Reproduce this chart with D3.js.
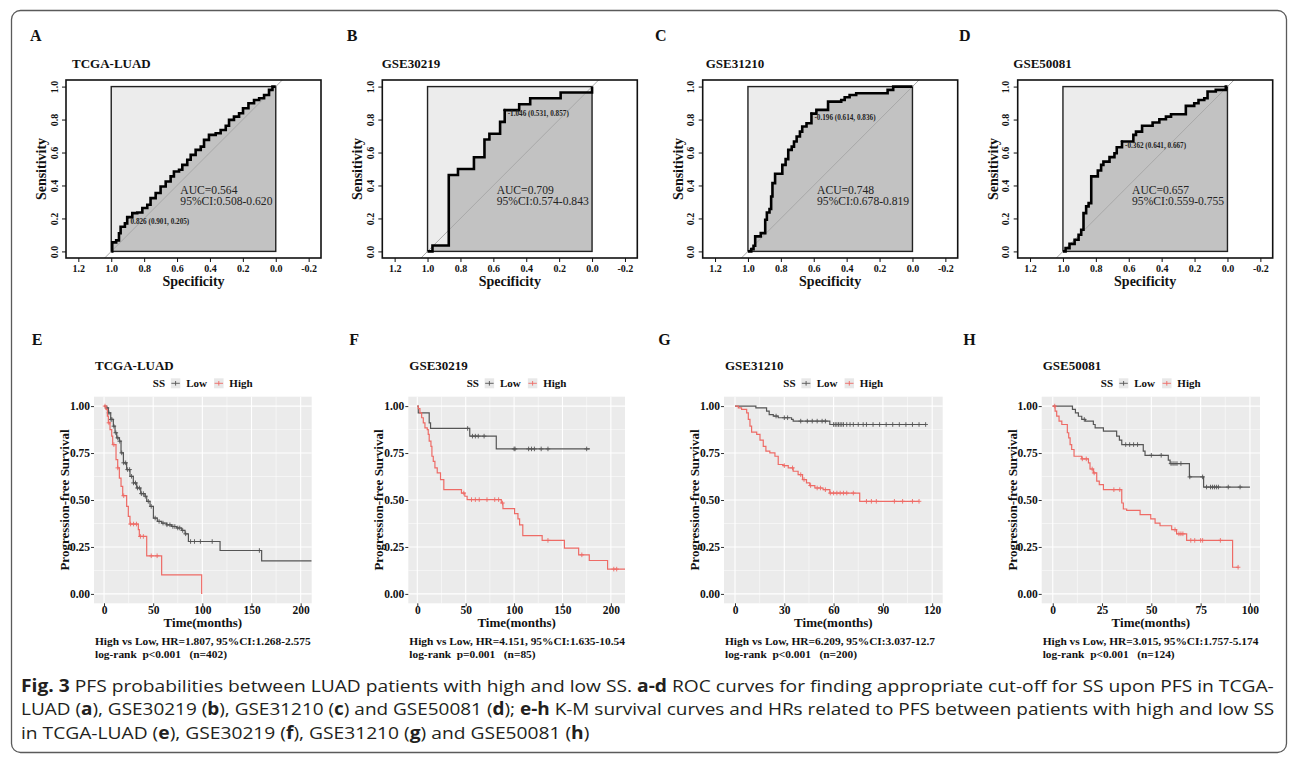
<!DOCTYPE html>
<html lang="en">
<meta charset="utf-8">

<head>
    <title>PFS ROC and K-M curves</title>
    <script src="https://d3js.org/d3.v7.min.js"></script>
    <style>
        body { margin: 0; background: #fff; }
        svg text { font-family: "Liberation Serif", "Times New Roman", serif; }
        #fig .caption text { font-family: "Open Sans", "Noto Sans", sans-serif; }
    </style>
</head>

<body>
    <svg id="fig" width="1295" height="758"></svg>
    <script>

        // ---------- ROC panels A-D : (specificity, sensitivity) ----------
        var rocNames = ["TCGA-LUAD", "GSE30219", "GSE31210", "GSE50081"];
        var rocLetters = ["A", "B", "C", "D"];

        var rocSpecA = [1, .994, .970, .953, .943, .917, .903, .872, .842, .811, .781, .761, .730, .700, .669, .639, .619, .588, .568, .538, .517, .487, .456, .436, .406, .365, .335, .304, .284, .254, .223, .199, .166, .132, .101, .071, .041, .020, 0];
        var rocSensA = [0, .055, .067, .11, .15, .17, .208, .232, .236, .263, .283, .323, .354, .394, .424, .455, .485, .495, .525, .556, .586, .616, .636, .677, .707, .717, .737, .762, .798, .818, .838, .869, .899, .919, .929, .949, .98, 1, 1];

        var rocSpecB = [1, .97, .871, .815, .718, .654, .624, .559, .531, .443, .376, .191, 0];
        var rocSensB = [0, .036, .464, .5, .571, .679, .714, .786, .857, .893, .929, .964, 1];

        var rocSpecC = [1, .980, .966, .956, .926, .922, .901, .895, .885, .869, .859, .851, .835, .795, .791, .771, .755, .734, .720, .704, .684, .670, .644, .614, .584, .513, .433, .412, .382, .342, .151, .117, 0];
        var rocSensC = [0, .014, .034, .091, .091, .111, .111, .192, .236, .257, .333, .414, .471, .471, .525, .560, .616, .636, .667, .697, .727, .758, .778, .836, .859, .909, .919, .935, .949, .960, .98, 1, 1];

        var rocSpecD = [1, .984, .960, .929, .905, .889, .875, .859, .844, .828, .788, .768, .754, .717, .687, .673, .641, .572, .556, .519, .455, .414, .374, .343, .253, .202, .176, .141, .121, .071, .01, 0];
        var rocSensD = [0, .02, .046, .071, .101, .131, .232, .273, .293, .455, .491, .525, .545, .572, .596, .632, .667, .707, .727, .762, .782, .802, .818, .832, .883, .899, .919, .929, .970, .98, 1, 1];

        var rocAucText = ["AUC=0.564", "AUC=0.709", "ACU=0.748", "AUC=0.657"];
        var rocCiText = ["95%CI:0.508-0.620", "95%CI:0.574-0.843", "95%CI:0.678-0.819", "95%CI:0.559-0.755"];
        var rocThrText = ["0.826 (0.901, 0.205)", "-1.046 (0.531, 0.857)", "-0.196 (0.614, 0.836)", "-0.362 (0.641, 0.667)"];
        var rocThrSpec = [0.901, 0.531, 0.614, 0.641];
        var rocThrSens = [0.205, 0.857, 0.836, 0.667];
        var rocXTicks = [1.2, 1.0, 0.8, 0.6, 0.4, 0.2, 0.0, -0.2];
        var rocYTicks = [0, 0.2, 0.4, 0.6, 0.8, 1.0];

        // ---------- K-M panels E-H ----------
        var kmNames = ["TCGA-LUAD", "GSE30219", "GSE31210", "GSE50081"];
        var kmLetters = ["E", "F", "G", "H"];

        var kmLowTimeE = [0, 2, 4.4, 6.8, 9.5, 11.2, 12.9, 15.6, 17.3, 19.7, 23, 26.4, 29.8, 33.2, 37.3, 41.7, 43.4, 46.8, 50.2, 54.2, 58.6, 63.7, 68.8, 73.9, 79, 82.4, 85.8, 118, 160.3];
        var kmLowSurvE = [1, .99, .964, .929, .893, .858, .831, .813, .751, .698, .662, .626, .591, .564, .534, .520, .493, .466, .404, .386, .377, .368, .359, .351, .338, .320, .279, .231, .176];
        var kmLowCensE = [3, 5, 7, 8, 10, 12, 14, 16, 18, 20, 22, 24, 26, 28, 30, 32, 34, 36, 38, 40, 42, 45, 48, 52, 56, 60, 64, 67, 70, 72, 75, 77, 80, 83, 88, 92, 98, 110, 158];
        var kmHighTimeE = [0, 2, 3.4, 4.4, 6.1, 7.8, 8.8, 12.2, 13.9, 15.6, 17.3, 19, 23, 24.7, 26.4, 34.9, 35.9, 43.4, 58.6, 99.3];
        var kmHighSurvE = [1, .982, .947, .911, .875, .840, .795, .715, .671, .617, .573, .523, .466, .413, .372, .342, .306, .203, .101, 0];
        var kmHighCensE = [1, 5, 10, 14, 20, 27, 30, 33, 37, 40, 48, 54];

        var kmLowTimeF = [0, 1, 12.3, 13.7, 54.2, 81.6];
        var kmLowSurvF = [1, .964, .911, .881, .840, .772];
        var kmLowCensF = [52, 57, 60, 63, 69, 100, 101, 115, 118, 121, 128, 135, 175];
        var kmHighTimeF = [0, 1, 2.7, 4.5, 6.2, 7.9, 10.3, 11.3, 12.3, 14.1, 15.1, 16.5, 18.2, 20.6, 24, 27.4, 45.6, 49.1, 51.5, 86.8, 88.5, 100.5, 104, 105.7, 109, 129, 152, 166.7, 177.7, 196.6];
        var kmHighSurvF = [1, .986, .964, .938, .911, .884, .875, .849, .813, .786, .733, .706, .671, .644, .609, .555, .537, .520, .502, .484, .454, .427, .399, .368, .310, .285, .244, .208, .178, .132];
        var kmHighCensF = [48, 56, 60, 64, 72, 80, 84, 88, 135, 170, 203, 206];

        var kmLowTimeG = [0, 12.7, 19.2, 20.8, 23.3, 26.3, 34.4, 35.4, 57.7];
        var kmLowSurvG = [1, .991, .973, .955, .947, .938, .929, .920, .902];
        var kmLowCensG = [25, 30, 32, 40, 44, 47, 50, 53, 55, 60, 61, 62, 63, 64, 65, 66, 68, 70, 72, 75, 78, 80, 84, 88, 92, 96, 100, 104, 108, 112, 116];
        var kmHighTimeG = [0, 2, 4, 7.1, 8.1, 9.1, 10.1, 13.2, 15.2, 17.2, 18.8, 21.2, 24.3, 26.3, 29.3, 32.4, 35.4, 38.4, 41.1, 43.5, 45.5, 48.6, 53.6, 57.7, 75.9];
        var kmHighSurvG = [1, .991, .982, .964, .929, .893, .861, .849, .819, .786, .760, .751, .733, .689, .683, .671, .653, .635, .609, .591, .577, .564, .555, .537, .493];
        var kmHighCensG = [30, 35, 40, 42, 46, 50, 52, 55, 58, 60, 62, 64, 66, 68, 72, 80, 83, 86, 97, 102, 108, 112];

        var kmLowTimeH = [0, 10, 11.5, 13, 14.7, 16.5, 20.6, 21.5, 25.7, 32.4, 33.8, 35, 45.9, 46.8, 58.6, 59.5, 69.3, 76.5];
        var kmLowSurvH = [1, .982, .964, .946, .929, .920, .902, .884, .867, .840, .819, .795, .760, .738, .712, .694, .623, .569];
        var kmLowCensH = [16, 37, 39, 41, 43, 50, 55, 60, 61, 62, 63, 65, 69.5, 76, 78, 80, 81, 82, 83, 84, 89, 95];
        var kmHighTimeH = [0, 1.2, 2, 3.2, 4.6, 7.4, 8.1, 8.8, 9.6, 10.8, 14.7, 18.1, 18.9, 20.6, 22.3, 23.6, 25.7, 35, 35.8, 37.5, 44.3, 49.7, 51.9, 54.4, 60.3, 62.8, 67.9, 91.2];
        var kmHighSurvH = [1, .973, .947, .920, .902, .858, .831, .795, .769, .733, .719, .698, .665, .644, .600, .582, .555, .484, .452, .445, .422, .399, .377, .363, .342, .320, .285, .142];
        var kmHighCensH = [1, 15, 17, 20, 21, 31, 34, 62, 64, 65, 66, 70, 72, 75, 76, 85, 94];

        var kmLowEnd = [211.2, 178.4, 116, 100];
        var kmHighEnd = [99.3, 214.6, 112, 94.1];
        var kmXDomain = [[-10.2, 211.2], [-9.3, 214.6], [-6.7, 126.4], [-5.6, 105.1]];
        var kmXTicks = [[0, 50, 100, 150, 200], [0, 50, 100, 150, 200], [0, 30, 60, 90, 120], [0, 25, 50, 75, 100]];
        var kmYTicks = [0, 0.25, 0.5, 0.75, 1];
        var kmHrText = ["High vs Low, HR=1.807, 95%CI:1.268-2.575", "High vs Low, HR=4.151, 95%CI:1.635-10.54",
            "High vs Low, HR=6.209, 95%CI:3.037-12.7", "High vs Low, HR=3.015, 95%CI:1.757-5.174"];
        var kmPText = ["log-rank  p<0.001   (n=402)", "log-rank  p=0.001   (n=85)",
            "log-rank  p<0.001   (n=200)", "log-rank  p<0.001   (n=124)"];

        // caption: [text, bold]
        var capLines = [
            [["Fig. 3", true], [" PFS probabilities between LUAD patients with high and low SS. ", false], ["a-d", true],
             [" ROC curves for finding appropriate cut-off for SS upon PFS in TCGA-", false]],
            [["LUAD (", false], ["a", true], ["), GSE30219 (", false], ["b", true], ["), GSE31210 (", false], ["c", true],
             [") and GSE50081 (", false], ["d", true], ["); ", false], ["e-h", true],
             [" K-M survival curves and HRs related to PFS between patients with high and low SS", false]],
            [["in TCGA-LUAD (", false], ["e", true], ["), GSE30219 (", false], ["f", true], ["), GSE31210 (", false], ["g", true],
             [") and GSE50081 (", false], ["h", true], [")", false]]
        ];

        // ---------- layout ----------
        var rocBoxX = [66, 382.3, 702.7, 1017.7], rocBoxW = 255, rocTop = 80, rocBottom = 258;
        var rocTitleX = [72, 381.7, 705.7, 1013.3];
        var rocLetterX = [30, 346.7, 655, 959];
        var kmPanelX = [94, 408.3, 724, 1041.7], kmPanelW = [217.7, 216.7, 218.7, 218.3];
        var kmTop = 396.7, kmBottom = 603.3;
        var kmLetterX = [31.7, 349.3, 658.3, 963.3];
        var lowColor = "#555555", highColor = "#ee6b66";

        var svg = d3.select("#fig");

        // outer frame
        svg.append("rect").attr("x", 11.5).attr("y", 10.5).attr("width", 1275).attr("height", 742)
            .attr("rx", 9).attr("fill", "none").attr("stroke", "#5a5a5a").attr("stroke-width", 1.3);

        var rocData = [[rocSpecA, rocSensA], [rocSpecB, rocSensB], [rocSpecC, rocSensC], [rocSpecD, rocSensD]];

        function drawRoc(i) {
            var bx = rocBoxX[i];
            var g = svg.append("g").attr("font-weight", "bold").attr("fill", "#111");
            var x = d3.scaleLinear().domain([1.275, -0.275]).range([bx, bx + rocBoxW]);
            var y = d3.scaleLinear().domain([-0.04, 1.04]).range([rocBottom, rocTop]);
            var pts = rocData[i][0].map(function (s, k) { return [s, rocData[i][1][k]]; });

            g.append("text").attr("x", rocLetterX[i]).attr("y", 41).attr("font-size", 16).text(rocLetters[i]);
            g.append("text").attr("x", rocTitleX[i]).attr("y", 68).attr("font-size", 13).text(rocNames[i]);

            var clipId = "rocclip" + i;
            g.append("clipPath").attr("id", clipId).append("rect")
                .attr("x", bx).attr("y", rocTop).attr("width", rocBoxW).attr("height", rocBottom - rocTop);
            var plot = g.append("g").attr("clip-path", "url(#" + clipId + ")");

            // max AUC square
            plot.append("rect").attr("x", x(1)).attr("y", y(1)).attr("width", x(0) - x(1)).attr("height", y(0) - y(1))
                .attr("fill", "#ececec");
            // AUC polygon
            var area = d3.area().curve(d3.curveStepAfter)
                .x(function (d) { return x(d[0]); }).y0(y(0)).y1(function (d) { return y(d[1]); });
            plot.append("path").datum(pts).attr("d", area).attr("fill", "#c2c2c2");
            plot.append("rect").attr("x", x(1)).attr("y", y(1)).attr("width", x(0) - x(1)).attr("height", y(0) - y(1))
                .attr("fill", "none").attr("stroke", "#222").attr("stroke-width", 1.4);
            // identity line
            plot.append("line").attr("x1", x(1.04)).attr("y1", y(-0.04)).attr("x2", x(-0.04)).attr("y2", y(1.04))
                .attr("stroke", "#a8a8a8").attr("stroke-width", 1);
            // ROC curve
            var line = d3.line().curve(d3.curveStepAfter)
                .x(function (d) { return x(d[0]); }).y(function (d) { return y(d[1]); });
            plot.append("path").datum(pts).attr("d", line).attr("fill", "none")
                .attr("stroke", "#000").attr("stroke-width", 2.6).attr("stroke-linejoin", "miter");

            // threshold
            var tx = x(rocThrSpec[i]), ty = y(rocThrSens[i]);
            plot.append("circle").attr("cx", tx).attr("cy", ty).attr("r", 1.3).attr("fill", "#000");
            plot.append("text").attr("x", tx + 3).attr("y", ty + 6.3).attr("font-size", 7.2).attr("fill", "#222")
                .text(rocThrText[i]);

            // AUC text
            g.append("text").attr("x", x(0.58)).attr("y", y(0.35)).attr("font-size", 11.6).attr("font-weight", "normal")
                .attr("fill", "#222").text(rocAucText[i]);
            g.append("text").attr("x", x(0.58)).attr("y", y(0.35) + 11.5).attr("font-size", 11.6).attr("font-weight", "normal")
                .attr("fill", "#222").text(rocCiText[i]);

            // box
            g.append("rect").attr("x", bx).attr("y", rocTop).attr("width", rocBoxW).attr("height", rocBottom - rocTop)
                .attr("fill", "none").attr("stroke", "#111").attr("stroke-width", 1.6);

            // axes
            var fmt = function (d) { return d.toFixed(1); };
            var ya = g.append("g").attr("transform", "translate(" + bx + ",0)")
                .call(d3.axisLeft(y).tickValues(rocYTicks).tickFormat(fmt).tickSize(4).tickSizeOuter(0));
            ya.select(".domain").remove();
            ya.selectAll("text").attr("x", null).attr("dy", null).attr("text-anchor", "middle")
                .attr("transform", "translate(-8.5,0) rotate(-90)");
            var xa = g.append("g").attr("transform", "translate(0," + rocBottom + ")")
                .call(d3.axisBottom(x).tickValues(rocXTicks).tickFormat(fmt).tickSize(4).tickSizeOuter(0));
            xa.select(".domain").remove();
            [ya, xa].forEach(function (a) {
                a.attr("font-family", null).attr("font-size", 10);
                a.selectAll("line").attr("stroke", "#111");
                a.selectAll("text").attr("fill", "#111");
            });

            g.append("text").attr("x", bx + rocBoxW / 2).attr("y", 285.5).attr("text-anchor", "middle")
                .attr("font-size", 14).text("Specificity");
            g.append("text").attr("text-anchor", "middle").attr("font-size", 14)
                .attr("transform", "translate(" + (bx - 20) + "," + ((rocTop + rocBottom) / 2) + ") rotate(-90)")
                .text("Sensitivity");
        }

        var kmData = [
            [kmLowTimeE, kmLowSurvE, kmLowCensE, kmHighTimeE, kmHighSurvE, kmHighCensE],
            [kmLowTimeF, kmLowSurvF, kmLowCensF, kmHighTimeF, kmHighSurvF, kmHighCensF],
            [kmLowTimeG, kmLowSurvG, kmLowCensG, kmHighTimeG, kmHighSurvG, kmHighCensG],
            [kmLowTimeH, kmLowSurvH, kmLowCensH, kmHighTimeH, kmHighSurvH, kmHighCensH]
        ];

        function survAt(times, survs, t) {
            var s = survs[0];
            for (var k = 0; k < times.length; k++) { if (times[k] <= t) s = survs[k]; }
            return s;
        }

        function drawKm(i) {
            var px = kmPanelX[i], pw = kmPanelW[i];
            var g = svg.append("g").attr("font-weight", "bold").attr("fill", "#111");
            var x = d3.scaleLinear().domain(kmXDomain[i]).range([px, px + pw]);
            var y = d3.scaleLinear().domain([-0.05, 1.05]).range([kmBottom, kmTop]);
            var d = kmData[i];

            g.append("text").attr("x", kmLetterX[i]).attr("y", 345).attr("font-size", 16).text(kmLetters[i]);
            g.append("text").attr("x", px + 1).attr("y", 370).attr("font-size", 13).text(kmNames[i]);

            // panel + grid
            g.append("rect").attr("x", px).attr("y", kmTop).attr("width", pw).attr("height", kmBottom - kmTop).attr("fill", "#ebebeb");
            var xt = kmXTicks[i], step = xt[1] - xt[0];
            var xMinor = xt.map(function (v) { return v + step / 2; }).concat([xt[0] - step / 2])
                .filter(function (v) { return v > kmXDomain[i][0] && v < kmXDomain[i][1]; });
            var yMinor = [0.125, 0.375, 0.625, 0.875];
            var grid = g.append("g").attr("stroke", "#fff");
            grid.selectAll(".gxm").data(xMinor).enter().append("line").attr("stroke-width", 0.5)
                .attr("x1", x).attr("x2", x).attr("y1", kmTop).attr("y2", kmBottom);
            grid.selectAll(".gym").data(yMinor).enter().append("line").attr("stroke-width", 0.5)
                .attr("y1", y).attr("y2", y).attr("x1", px).attr("x2", px + pw);
            grid.selectAll(".gx").data(xt).enter().append("line").attr("stroke-width", 1.1)
                .attr("x1", x).attr("x2", x).attr("y1", kmTop).attr("y2", kmBottom);
            grid.selectAll(".gy").data(kmYTicks).enter().append("line").attr("stroke-width", 1.1)
                .attr("y1", y).attr("y2", y).attr("x1", px).attr("x2", px + pw);

            var clipId = "kmclip" + i;
            g.append("clipPath").attr("id", clipId).append("rect")
                .attr("x", px).attr("y", kmTop).attr("width", pw).attr("height", kmBottom - kmTop);
            var plot = g.append("g").attr("clip-path", "url(#" + clipId + ")");

            var line = d3.line().curve(d3.curveStepAfter)
                .x(function (p) { return x(p[0]); }).y(function (p) { return y(p[1]); });
            var groups = [
                { t: d[0], s: d[1], c: d[2], end: kmLowEnd[i], col: lowColor },
                { t: d[3], s: d[4], c: d[5], end: kmHighEnd[i], col: highColor }
            ];
            groups.forEach(function (gr) {
                var pts = gr.t.map(function (t, k) { return [t, gr.s[k]]; });
                pts.push([gr.end, gr.s[gr.s.length - 1]]);
                plot.append("path").datum(pts).attr("d", line).attr("fill", "none")
                    .attr("stroke", gr.col).attr("stroke-width", 1.2);
                plot.selectAll(null).data(gr.c).enter().append("path")
                    .attr("transform", function (t) { return "translate(" + x(t) + "," + y(survAt(gr.t, gr.s, t)) + ")"; })
                    .attr("d", "M-2.3,0H2.3M0,-2.3V2.3").attr("stroke", gr.col).attr("stroke-width", 0.9);
            });

            // axes
            var ya = g.append("g").attr("transform", "translate(" + px + ",0)")
                .call(d3.axisLeft(y).tickValues(kmYTicks).tickFormat(d3.format(".2f")).tickSize(3).tickPadding(1).tickSizeOuter(0));
            var xa = g.append("g").attr("transform", "translate(0," + kmBottom + ")")
                .call(d3.axisBottom(x).tickValues(xt).tickFormat(d3.format("d")).tickSize(3).tickPadding(0).tickSizeOuter(0));
            [ya, xa].forEach(function (a) {
                a.select(".domain").remove();
                a.attr("font-family", null).attr("font-size", 11.5);
                a.selectAll("line").attr("stroke", "#333");
                a.selectAll("text").attr("fill", "#111");
            });

            g.append("text").attr("x", px + pw / 2).attr("y", 626.5).attr("text-anchor", "middle")
                .attr("font-size", 13).text("Time(months)");
            g.append("text").attr("text-anchor", "middle").attr("font-size", 13)
                .attr("transform", "translate(" + (px - 25) + "," + ((kmTop + kmBottom) / 2) + ") rotate(-90)")
                .text("Progression-free Survival");

            // legend
            var cx = px + pw / 2, ly = 386.7;
            var lg = g.append("g").attr("font-size", 11);
            lg.append("text").attr("x", cx - 50).attr("y", ly).text("SS");
            [[cx - 32, lowColor, "Low"], [cx + 11.2, highColor, "High"]].forEach(function (k) {
                lg.append("rect").attr("x", k[0]).attr("y", 378.3).attr("width", 9.5).attr("height", 10).attr("fill", "#e8e8e8");
                lg.append("path").attr("d", "M" + (k[0] + 0.5) + ",383.3H" + (k[0] + 9) + "M" + (k[0] + 4.75) + ",381H" + (k[0] + 4.75) + "V385.6")
                    .attr("stroke", k[1]).attr("stroke-width", 0.9).attr("fill", "none");
                lg.append("text").attr("x", k[0] + 15.3).attr("y", ly).text(k[2]);
            });

            // HR / log-rank annotation
            g.append("text").attr("x", px + 1).attr("y", 645.3).attr("font-size", 11.4).style("white-space", "pre").text(kmHrText[i]);
            g.append("text").attr("x", px + 1).attr("y", 658).attr("font-size", 11.4).style("white-space", "pre").text(kmPText[i]);
        }

        for (var i = 0; i < 4; i++) { drawRoc(i); drawKm(i); }

        // caption: each line is one text, stretched horizontally to the justified width
        var cap = svg.append("g").attr("class", "caption").attr("font-size", 17).attr("fill", "#231f20");
        var capY = [691.7, 715, 739];
        var capNodes = capLines.map(function (segs, li) {
            var t = cap.append("text").attr("x", 0).attr("y", 0).style("white-space", "pre");
            segs.forEach(function (s) {
                t.append("tspan").attr("font-weight", s[1] ? "bold" : "normal").text(s[0]);
            });
            return t;
        });
        var f = 1254 / capNodes[0].node().getComputedTextLength();
        capNodes.forEach(function (t, li) {
            var sx = li < 2 ? 1254 / t.node().getComputedTextLength() : f;
            t.attr("transform", "translate(21," + capY[li] + ") scale(" + sx + ",1)");
        });

    </script>

</body>

</html>
